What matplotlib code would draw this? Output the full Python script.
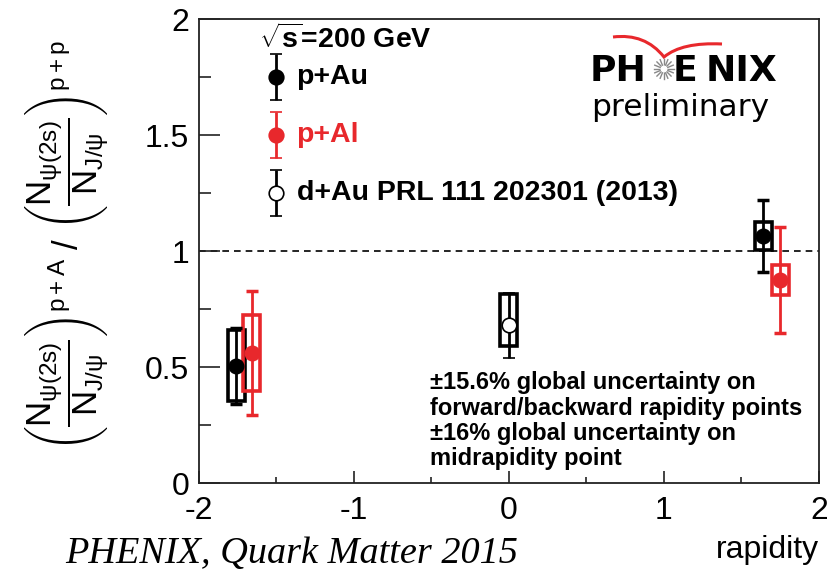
import numpy as np
import matplotlib
matplotlib.use("Agg")
import matplotlib.pyplot as plt
from matplotlib.patches import Rectangle, PathPatch
from matplotlib.path import Path

# psi(2S)/J/psi double ratio vs rapidity
pau_y = [-1.76, 1.64]
pau_ratio = [0.505, 1.065]
pau_stat = [0.165, 0.155]
pau_sys = [0.153, 0.062]

pal_y = [-1.66, 1.75]
pal_ratio = [0.56, 0.875]
pal_stat = [0.268, 0.228]
pal_sys = [0.165, 0.063]

dau_y = [0.0]
dau_ratio = [0.68]
dau_stat = [0.14]
dau_sys_lo = [0.09]
dau_sys_hi = [0.135]

legend_labels = ["p+Au", "p+Al", "d+Au PRL 111 202301 (2013)"]
notes = ["\u00b115.6% global uncertainty on",
         "forward/backward rapidity points",
         "\u00b116% global uncertainty on",
         "midrapidity point"]

RED = "#e8282c"
BLACK = "black"

plt.rcParams["font.family"] = ["Liberation Sans", "DejaVu Sans"]
plt.rcParams["mathtext.fontset"] = "custom"
plt.rcParams["mathtext.rm"] = "Liberation Sans"
plt.rcParams["mathtext.it"] = "Liberation Sans"
plt.rcParams["mathtext.bf"] = "Liberation Sans:bold"

fig = plt.figure(figsize=(8.28, 5.77), dpi=100)
ax = fig.add_axes([0.2403, 0.1629, 0.7487, 0.8041])
ax.set_xlim(-2, 2)
ax.set_ylim(0, 2)

box_hw = 0.055


def sys_boxes(xs, ys, lo, hi, color):
    for x, y, l, h in zip(xs, ys, lo, hi):
        ax.add_patch(Rectangle((x - box_hw, y - l), 2 * box_hw, l + h,
                               facecolor="none", edgecolor=color, lw=2.6, zorder=3))


sys_boxes(pau_y, pau_ratio, pau_sys, pau_sys, BLACK)
sys_boxes(pal_y, pal_ratio, pal_sys, pal_sys, RED)
sys_boxes(dau_y, dau_ratio, dau_sys_lo, dau_sys_hi, BLACK)

eb = dict(fmt="o", markersize=10.5, elinewidth=2.0, capsize=4, capthick=2.5, zorder=4)
ax.errorbar(pau_y, pau_ratio, yerr=pau_stat, color=BLACK, **eb)
ax.errorbar(pal_y, pal_ratio, yerr=pal_stat, color=RED, **eb)
ax.errorbar(dau_y, dau_ratio, yerr=dau_stat, color=BLACK, mfc="white", mec=BLACK,
            mew=1.2, **eb)

ax.axhline(1.0, color="black", lw=1.2, ls=(0, (4, 3)), zorder=1)

# legend drawn in data coordinates
leg_x = -1.5
leg_y = [1.75, 1.5, 1.25]
leg_col = [BLACK, RED, BLACK]
leg_face = [BLACK, RED, "white"]
for yy, lab, c, fc in zip(leg_y, legend_labels, leg_col, leg_face):
    ax.errorbar([leg_x], [yy], yerr=[0.1], color=c, mfc=fc, mec=c, mew=1.2, **eb)
    ax.text(leg_x + 0.13, yy, lab, color=c, fontsize=20.5, fontweight="bold",
            va="center", ha="left")
ax.text(-1.61, 1.915, r"$\mathbf{\sqrt{s}}$=200 GeV", fontsize=20.5, fontweight="bold",
        va="center", ha="left")

ax.text(-0.51, 0.482, "\n".join(notes), fontsize=17, fontweight="bold",
        va="top", ha="left", linespacing=1.13)

# axes styling
for s in ax.spines.values():
    s.set_linewidth(1.3)
    s.set_color("#222222")
ax.set_xticks([-2, -1, 0, 1, 2])
ax.set_xticks(np.arange(-2, 2.01, 0.5), minor=True)
ax.set_yticks([0, 0.5, 1, 1.5, 2])
ax.set_yticks(np.arange(0, 2.01, 0.25), minor=True)
ax.set_xticklabels(["-2", "-1", "0", "1", "2"])
ax.set_yticklabels(["0", "0.5", "1", "1.5", "2"])
ax.tick_params(axis="both", which="both", direction="in", top=False, right=False,
               labelsize=23, width=1.2, color="#222222")
ax.tick_params(axis="y", which="major", length=15, pad=7)
ax.tick_params(axis="y", which="minor", length=8.5)
ax.tick_params(axis="x", which="major", length=9, pad=9)
ax.tick_params(axis="x", which="minor", length=4.5)

ylab = (r"$\left(\dfrac{N_{\psi(2s)}}{N_{J/\psi}}\right)^{p+A}$ / "
        r"$\left(\dfrac{N_{\psi(2s)}}{N_{J/\psi}}\right)^{p+p}$")
fig.text(0.082, 0.575, ylab, rotation=90, fontsize=25, ha="center", va="center")

fig.text(0.989, 1 - 550 / 577, "rapidity", fontsize=23, ha="right", va="center")
fig.text(65 / 828, 1 - 554 / 577, "PHENIX, Quark Matter 2015", fontsize=27.5,
         family="Liberation Serif", style="italic", ha="left", va="center")

# PHENIX logo, positioned in inches from the lower-left corner
tr = fig.dpi_scale_trans


def px(x, y):
    return x / 100.0, (577 - y) / 100.0


fig.text(*px(590, 71), "PH", transform=tr, fontsize=26, fontweight="bold",
         family="DejaVu Sans", ha="left", va="center")
fig.text(*px(673, 71), "E", transform=tr, fontsize=26, fontweight="bold",
         family="DejaVu Sans", ha="left", va="center")
fig.text(*px(777, 71), "NIX", transform=tr, fontsize=26, fontweight="bold",
         family="DejaVu Sans", ha="right", va="center")
fig.text(*px(591, 107), "preliminary", transform=tr, fontsize=22.5,
         family="DejaVu Sans", ha="left", va="center")
cx, cy = px(664, 69)
for a in np.linspace(0, np.pi, 8, endpoint=False):
    dx, dy = 0.1 * np.cos(a), 0.1 * np.sin(a)
    fig.add_artist(plt.Line2D([cx - dx, cx + dx], [cy - dy, cy + dy], transform=tr,
                              color="#888888", lw=1.0))
fig.add_artist(plt.Circle((cx, cy), 0.028, transform=tr, color="white", zorder=5))
verts = [px(613, 37), px(645, 33), px(664, 57), px(682, 42), px(722, 44)]
codes = [Path.MOVETO, Path.CURVE3, Path.CURVE3, Path.CURVE3, Path.CURVE3]
fig.add_artist(PathPatch(Path(verts, codes), transform=tr, facecolor="none",
                         edgecolor=RED, lw=2.2))

fig.savefig("out.png", dpi=100)
